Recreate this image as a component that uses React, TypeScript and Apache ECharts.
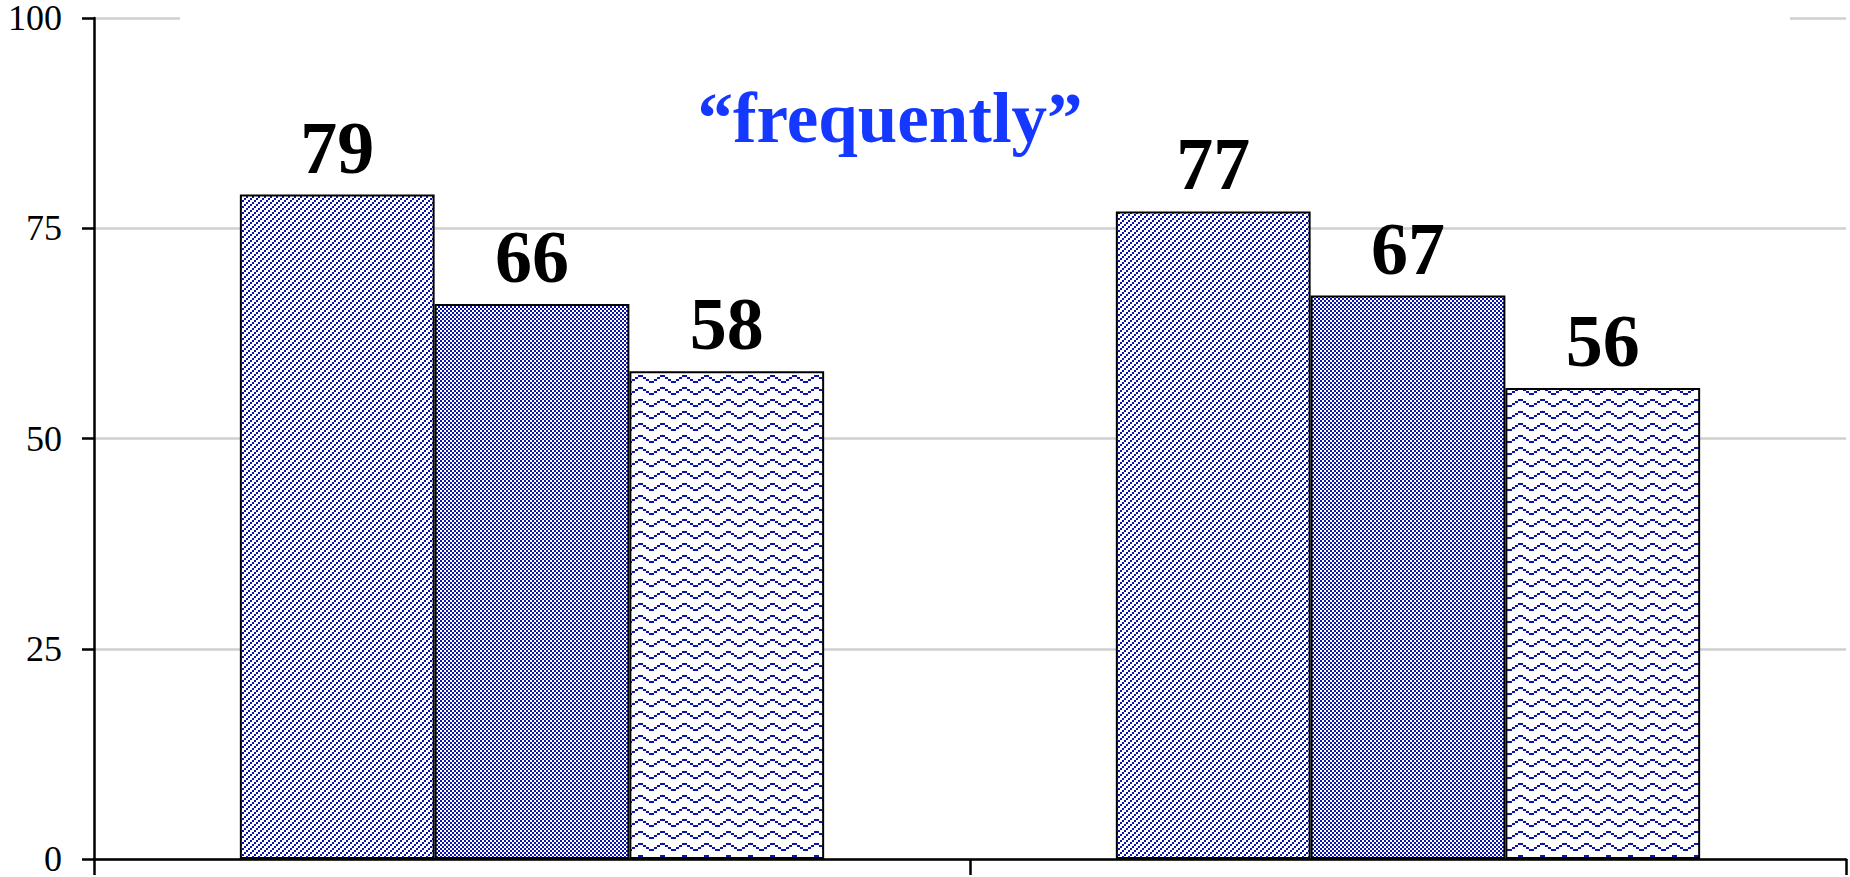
import React, { useEffect, useRef } from "react";
import * as echarts from "echarts";

const categories = ["Group 1", "Group 2"];
const seriesNames = ["Series A", "Series B", "Series C"];
const seriesA = [79, 77];
const seriesB = [66, 67];
const seriesC = [58, 56];
const yTicks = [0, 25, 50, 75, 100];
const titleText = "\u201cfrequently\u201d";

const BLUE = "#0a14a8";

function makeTile(w: number, h: number, draw: (ctx: CanvasRenderingContext2D) => void) {
  const c = document.createElement("canvas");
  c.width = w;
  c.height = h;
  const ctx = c.getContext("2d")!;
  ctx.fillStyle = "#ffffff";
  ctx.fillRect(0, 0, w, h);
  ctx.fillStyle = BLUE;
  draw(ctx);
  return c;
}

export default function App() {
  const ref = useRef<HTMLDivElement>(null);
  useEffect(() => {
    if (!ref.current) return;
    const chart = echarts.init(ref.current, undefined, { renderer: "svg" });

    const diag = makeTile(6, 6, (ctx) => {
      ctx.fillRect(0, 4, 2, 2);
      ctx.fillRect(2, 2, 2, 2);
      ctx.fillRect(4, 0, 2, 2);
    });
    const check = makeTile(4, 4, (ctx) => {
      ctx.fillRect(0, 0, 2, 2);
      ctx.fillRect(2, 2, 2, 2);
    });
    const wave = makeTile(22, 12, (ctx) => {
      const prof: [number, number, number][] = [
        [0, 5, 0],
        [5, 3, 2],
        [8, 3, 4],
        [11, 5, 6],
        [16, 3, 4],
        [19, 3, 2],
      ];
      prof.forEach(([x, w, y]) => ctx.fillRect(x, y + 3, w, 2));
    });

    const fills = [diag, check, wave];
    const datas = [seriesA, seriesB, seriesC];

    const serif = "'Liberation Serif', 'Times New Roman', serif";

    chart.setOption({
      animation: false,
      backgroundColor: "#ffffff",
      grid: { left: 94, right: 4, top: 17, bottom: 16, containLabel: false },
      xAxis: {
        type: "category",
        data: categories,
        boundaryGap: true,
        axisLine: { show: true, lineStyle: { color: "#000", width: 2.5 } },
        axisTick: { show: true, alignWithLabel: false, length: 16, lineStyle: { color: "#000", width: 2.5 } },
        axisLabel: { show: false },
        splitLine: { show: false },
      },
      yAxis: {
        type: "value",
        min: yTicks[0],
        max: yTicks[yTicks.length - 1],
        interval: 25,
        axisLine: { show: true, lineStyle: { color: "#000", width: 2.5 } },
        axisTick: { show: true, length: 12, lineStyle: { color: "#000", width: 2.5 } },
        axisLabel: { fontFamily: serif, fontSize: 36, lineHeight: 28, color: "#000", margin: 32 },
        splitLine: { show: true, lineStyle: { color: "#cfcfcf", width: 2.5 } },
      },
      graphic: [
        {
          type: "rect",
          z: 10,
          shape: { x: 180, y: 12, width: 1610, height: 10 },
          style: { fill: "#ffffff" },
          silent: true,
        },
        {
          type: "text",
          z: 11,
          x: 890,
          y: 118,
          style: {
            text: titleText,
            fill: "#1438ff",
            font: `bold 71px ${serif}`,
            textAlign: "center",
            textVerticalAlign: "middle",
          },
        },
      ],
      series: datas.map((d, i) => ({
        name: seriesNames[i],
        type: "bar",
        data: d,
        barGap: "0%",
        barCategoryGap: "33.3%",
        itemStyle: {
          color: { image: fills[i], repeat: "repeat" },
          borderColor: "#000",
          borderWidth: 2,
        },
        label: {
          show: true,
          position: "top",
          distance: 10,
          fontFamily: serif,
          fontWeight: "bold",
          fontSize: 74,
          color: "#000",
        },
      })),
    });

    return () => chart.dispose();
  }, []);

  return (
    <div
      ref={ref}
      style={{ position: "fixed", left: 0, top: 0, width: 1850, height: 877, background: "#fff" }}
    />
  );
}
